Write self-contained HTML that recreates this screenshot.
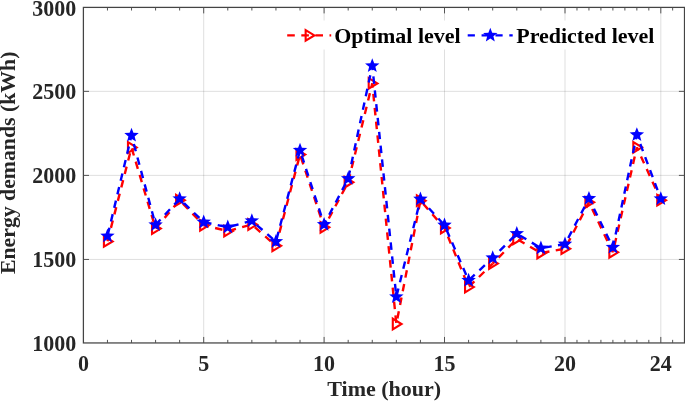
<!DOCTYPE html>
<html><head><meta charset="utf-8"><title>Energy demands</title>
<style>html,body{margin:0;padding:0;background:#fff;}body{width:685px;height:401px;overflow:hidden;position:relative;font-family:"Liberation Serif",serif;}</style>
</head><body>
<svg width="685" height="401" viewBox="0 0 685 401" style="position:absolute;left:0;top:0;will-change:transform;font-family:'Liberation Serif',serif;font-weight:bold">
<rect x="0" y="0" width="685" height="401" fill="#fff"/>
<line x1="203.70" y1="7.4" x2="203.70" y2="342.95" stroke="rgba(38,38,38,0.15)" stroke-width="1"/>
<line x1="324.10" y1="7.4" x2="324.10" y2="342.95" stroke="rgba(38,38,38,0.15)" stroke-width="1"/>
<line x1="444.50" y1="7.4" x2="444.50" y2="342.95" stroke="rgba(38,38,38,0.15)" stroke-width="1"/>
<line x1="565.00" y1="7.4" x2="565.00" y2="342.95" stroke="rgba(38,38,38,0.15)" stroke-width="1"/>
<line x1="660.80" y1="7.4" x2="660.80" y2="342.95" stroke="rgba(38,38,38,0.15)" stroke-width="1"/>
<line x1="83.4" y1="259.45" x2="684.5" y2="259.45" stroke="rgba(38,38,38,0.15)" stroke-width="1"/>
<line x1="83.4" y1="175.40" x2="684.5" y2="175.40" stroke="rgba(38,38,38,0.15)" stroke-width="1"/>
<line x1="83.4" y1="91.35" x2="684.5" y2="91.35" stroke="rgba(38,38,38,0.15)" stroke-width="1"/>
<rect x="283" y="20.5" width="372" height="29" fill="#fff"/>
<rect x="83.4" y="7.4" width="601.1" height="335.55" fill="none" stroke="#444444" stroke-width="1.25"/>
<line x1="107.46" y1="342.95" x2="107.46" y2="339.84999999999997" stroke="#4c4c4c" stroke-width="0.95"/>
<line x1="107.46" y1="7.4" x2="107.46" y2="10.5" stroke="#4c4c4c" stroke-width="0.95"/>
<line x1="131.52" y1="342.95" x2="131.52" y2="339.84999999999997" stroke="#4c4c4c" stroke-width="0.95"/>
<line x1="131.52" y1="7.4" x2="131.52" y2="10.5" stroke="#4c4c4c" stroke-width="0.95"/>
<line x1="155.58" y1="342.95" x2="155.58" y2="339.84999999999997" stroke="#4c4c4c" stroke-width="0.95"/>
<line x1="155.58" y1="7.4" x2="155.58" y2="10.5" stroke="#4c4c4c" stroke-width="0.95"/>
<line x1="179.64" y1="342.95" x2="179.64" y2="339.84999999999997" stroke="#4c4c4c" stroke-width="0.95"/>
<line x1="179.64" y1="7.4" x2="179.64" y2="10.5" stroke="#4c4c4c" stroke-width="0.95"/>
<line x1="203.70" y1="342.95" x2="203.70" y2="336.95" stroke="#4c4c4c" stroke-width="0.95"/>
<line x1="203.70" y1="7.4" x2="203.70" y2="13.4" stroke="#4c4c4c" stroke-width="0.95"/>
<line x1="227.78" y1="342.95" x2="227.78" y2="339.84999999999997" stroke="#4c4c4c" stroke-width="0.95"/>
<line x1="227.78" y1="7.4" x2="227.78" y2="10.5" stroke="#4c4c4c" stroke-width="0.95"/>
<line x1="251.86" y1="342.95" x2="251.86" y2="339.84999999999997" stroke="#4c4c4c" stroke-width="0.95"/>
<line x1="251.86" y1="7.4" x2="251.86" y2="10.5" stroke="#4c4c4c" stroke-width="0.95"/>
<line x1="275.94" y1="342.95" x2="275.94" y2="339.84999999999997" stroke="#4c4c4c" stroke-width="0.95"/>
<line x1="275.94" y1="7.4" x2="275.94" y2="10.5" stroke="#4c4c4c" stroke-width="0.95"/>
<line x1="300.02" y1="342.95" x2="300.02" y2="339.84999999999997" stroke="#4c4c4c" stroke-width="0.95"/>
<line x1="300.02" y1="7.4" x2="300.02" y2="10.5" stroke="#4c4c4c" stroke-width="0.95"/>
<line x1="324.10" y1="342.95" x2="324.10" y2="336.95" stroke="#4c4c4c" stroke-width="0.95"/>
<line x1="324.10" y1="7.4" x2="324.10" y2="13.4" stroke="#4c4c4c" stroke-width="0.95"/>
<line x1="348.18" y1="342.95" x2="348.18" y2="339.84999999999997" stroke="#4c4c4c" stroke-width="0.95"/>
<line x1="348.18" y1="7.4" x2="348.18" y2="10.5" stroke="#4c4c4c" stroke-width="0.95"/>
<line x1="372.26" y1="342.95" x2="372.26" y2="339.84999999999997" stroke="#4c4c4c" stroke-width="0.95"/>
<line x1="372.26" y1="7.4" x2="372.26" y2="10.5" stroke="#4c4c4c" stroke-width="0.95"/>
<line x1="396.34" y1="342.95" x2="396.34" y2="339.84999999999997" stroke="#4c4c4c" stroke-width="0.95"/>
<line x1="396.34" y1="7.4" x2="396.34" y2="10.5" stroke="#4c4c4c" stroke-width="0.95"/>
<line x1="420.42" y1="342.95" x2="420.42" y2="339.84999999999997" stroke="#4c4c4c" stroke-width="0.95"/>
<line x1="420.42" y1="7.4" x2="420.42" y2="10.5" stroke="#4c4c4c" stroke-width="0.95"/>
<line x1="444.50" y1="342.95" x2="444.50" y2="336.95" stroke="#4c4c4c" stroke-width="0.95"/>
<line x1="444.50" y1="7.4" x2="444.50" y2="13.4" stroke="#4c4c4c" stroke-width="0.95"/>
<line x1="468.60" y1="342.95" x2="468.60" y2="339.84999999999997" stroke="#4c4c4c" stroke-width="0.95"/>
<line x1="468.60" y1="7.4" x2="468.60" y2="10.5" stroke="#4c4c4c" stroke-width="0.95"/>
<line x1="492.70" y1="342.95" x2="492.70" y2="339.84999999999997" stroke="#4c4c4c" stroke-width="0.95"/>
<line x1="492.70" y1="7.4" x2="492.70" y2="10.5" stroke="#4c4c4c" stroke-width="0.95"/>
<line x1="516.80" y1="342.95" x2="516.80" y2="339.84999999999997" stroke="#4c4c4c" stroke-width="0.95"/>
<line x1="516.80" y1="7.4" x2="516.80" y2="10.5" stroke="#4c4c4c" stroke-width="0.95"/>
<line x1="540.90" y1="342.95" x2="540.90" y2="339.84999999999997" stroke="#4c4c4c" stroke-width="0.95"/>
<line x1="540.90" y1="7.4" x2="540.90" y2="10.5" stroke="#4c4c4c" stroke-width="0.95"/>
<line x1="565.00" y1="342.95" x2="565.00" y2="336.95" stroke="#4c4c4c" stroke-width="0.95"/>
<line x1="565.00" y1="7.4" x2="565.00" y2="13.4" stroke="#4c4c4c" stroke-width="0.95"/>
<line x1="576.98" y1="342.95" x2="576.98" y2="339.84999999999997" stroke="#4c4c4c" stroke-width="0.95"/>
<line x1="576.98" y1="7.4" x2="576.98" y2="10.5" stroke="#4c4c4c" stroke-width="0.95"/>
<line x1="588.95" y1="342.95" x2="588.95" y2="339.84999999999997" stroke="#4c4c4c" stroke-width="0.95"/>
<line x1="588.95" y1="7.4" x2="588.95" y2="10.5" stroke="#4c4c4c" stroke-width="0.95"/>
<line x1="600.92" y1="342.95" x2="600.92" y2="339.84999999999997" stroke="#4c4c4c" stroke-width="0.95"/>
<line x1="600.92" y1="7.4" x2="600.92" y2="10.5" stroke="#4c4c4c" stroke-width="0.95"/>
<line x1="612.90" y1="342.95" x2="612.90" y2="339.84999999999997" stroke="#4c4c4c" stroke-width="0.95"/>
<line x1="612.90" y1="7.4" x2="612.90" y2="10.5" stroke="#4c4c4c" stroke-width="0.95"/>
<line x1="624.88" y1="342.95" x2="624.88" y2="339.84999999999997" stroke="#4c4c4c" stroke-width="0.95"/>
<line x1="624.88" y1="7.4" x2="624.88" y2="10.5" stroke="#4c4c4c" stroke-width="0.95"/>
<line x1="636.85" y1="342.95" x2="636.85" y2="339.84999999999997" stroke="#4c4c4c" stroke-width="0.95"/>
<line x1="636.85" y1="7.4" x2="636.85" y2="10.5" stroke="#4c4c4c" stroke-width="0.95"/>
<line x1="648.82" y1="342.95" x2="648.82" y2="339.84999999999997" stroke="#4c4c4c" stroke-width="0.95"/>
<line x1="648.82" y1="7.4" x2="648.82" y2="10.5" stroke="#4c4c4c" stroke-width="0.95"/>
<line x1="660.80" y1="342.95" x2="660.80" y2="336.95" stroke="#4c4c4c" stroke-width="0.95"/>
<line x1="660.80" y1="7.4" x2="660.80" y2="13.4" stroke="#4c4c4c" stroke-width="0.95"/>
<line x1="672.65" y1="342.95" x2="672.65" y2="339.84999999999997" stroke="#4c4c4c" stroke-width="0.95"/>
<line x1="672.65" y1="7.4" x2="672.65" y2="10.5" stroke="#4c4c4c" stroke-width="0.95"/>
<line x1="83.4" y1="259.45" x2="89.0" y2="259.45" stroke="#4c4c4c" stroke-width="0.95"/>
<line x1="684.5" y1="259.45" x2="678.9" y2="259.45" stroke="#4c4c4c" stroke-width="0.95"/>
<line x1="83.4" y1="175.40" x2="89.0" y2="175.40" stroke="#4c4c4c" stroke-width="0.95"/>
<line x1="684.5" y1="175.40" x2="678.9" y2="175.40" stroke="#4c4c4c" stroke-width="0.95"/>
<line x1="83.4" y1="91.35" x2="89.0" y2="91.35" stroke="#4c4c4c" stroke-width="0.95"/>
<line x1="684.5" y1="91.35" x2="678.9" y2="91.35" stroke="#4c4c4c" stroke-width="0.95"/>
<text transform="translate(83.40,370.7) scale(1,1.04)" font-size="22" fill="#262626" text-anchor="middle">0</text>
<text transform="translate(203.70,370.7) scale(1,1.04)" font-size="22" fill="#262626" text-anchor="middle">5</text>
<text transform="translate(324.10,370.7) scale(1,1.04)" font-size="22" fill="#262626" text-anchor="middle">10</text>
<text transform="translate(444.50,370.7) scale(1,1.04)" font-size="22" fill="#262626" text-anchor="middle">15</text>
<text transform="translate(565.00,370.7) scale(1,1.04)" font-size="22" fill="#262626" text-anchor="middle">20</text>
<text transform="translate(660.80,370.7) scale(1,1.04)" font-size="22" fill="#262626" text-anchor="middle">24</text>
<text transform="translate(76.3,351.05) scale(1,1.04)" font-size="22" fill="#262626" text-anchor="end">1000</text>
<text transform="translate(76.3,267.16) scale(1,1.04)" font-size="22" fill="#262626" text-anchor="end">1500</text>
<text transform="translate(76.3,183.27) scale(1,1.04)" font-size="22" fill="#262626" text-anchor="end">2000</text>
<text transform="translate(76.3,99.39) scale(1,1.04)" font-size="22" fill="#262626" text-anchor="end">2500</text>
<text transform="translate(76.3,15.50) scale(1,1.04)" font-size="22" fill="#262626" text-anchor="end">3000</text>
<text x="384.2" y="396.3" font-size="22" fill="#262626" text-anchor="middle">Time (hour)</text>
<text transform="translate(15.2,162.8) rotate(-90)" font-size="21.75" fill="#262626" text-anchor="middle">Energy demands (kWh)</text>
<line x1="107.46" y1="241.45" x2="131.52" y2="147.49" stroke="#ff0000" stroke-width="2.4" stroke-dasharray="7.5 6.41" stroke-dashoffset="13.76"/>
<line x1="131.52" y1="147.49" x2="155.58" y2="228.53" stroke="#ff0000" stroke-width="2.4" stroke-dasharray="7.5 6.41" stroke-dashoffset="13.07"/>
<line x1="155.58" y1="228.53" x2="179.64" y2="200.17" stroke="#ff0000" stroke-width="2.4" stroke-dasharray="7.5 6.41" stroke-dashoffset="13.87"/>
<line x1="179.64" y1="200.17" x2="203.70" y2="225.34" stroke="#ff0000" stroke-width="2.4" stroke-dasharray="7.5 6.41" stroke-dashoffset="9.21"/>
<line x1="203.70" y1="225.34" x2="227.78" y2="231.04" stroke="#ff0000" stroke-width="2.4" stroke-dasharray="7.5 6.41" stroke-dashoffset="2.18"/>
<line x1="227.78" y1="231.04" x2="251.86" y2="224.50" stroke="#ff0000" stroke-width="2.4" stroke-dasharray="7.5 6.41" stroke-dashoffset="12.94"/>
<line x1="251.86" y1="224.50" x2="275.94" y2="245.81" stroke="#ff0000" stroke-width="2.4" stroke-dasharray="7.5 6.41" stroke-dashoffset="9.99"/>
<line x1="275.94" y1="245.81" x2="300.02" y2="154.54" stroke="#ff0000" stroke-width="2.4" stroke-dasharray="7.5 6.41" stroke-dashoffset="0.31"/>
<line x1="300.02" y1="154.54" x2="324.10" y2="227.35" stroke="#ff0000" stroke-width="2.4" stroke-dasharray="7.5 6.41" stroke-dashoffset="10.95"/>
<line x1="324.10" y1="227.35" x2="348.18" y2="182.22" stroke="#ff0000" stroke-width="2.4" stroke-dasharray="7.5 6.41" stroke-dashoffset="3.93"/>
<line x1="348.18" y1="182.22" x2="372.26" y2="83.40" stroke="#ff0000" stroke-width="2.4" stroke-dasharray="7.5 6.41" stroke-dashoffset="13.19"/>
<line x1="372.26" y1="83.40" x2="396.34" y2="323.99" stroke="#ff0000" stroke-width="2.4" stroke-dasharray="7.5 6.41" stroke-dashoffset="3.30"/>
<line x1="396.34" y1="323.99" x2="420.42" y2="200.68" stroke="#ff0000" stroke-width="2.4" stroke-dasharray="7.5 6.41" stroke-dashoffset="8.40"/>
<line x1="420.42" y1="200.68" x2="444.50" y2="228.02" stroke="#ff0000" stroke-width="2.4" stroke-dasharray="7.5 6.41" stroke-dashoffset="9.77"/>
<line x1="444.50" y1="228.02" x2="468.60" y2="287.08" stroke="#ff0000" stroke-width="2.4" stroke-dasharray="7.5 6.41" stroke-dashoffset="4.75"/>
<line x1="468.60" y1="287.08" x2="492.70" y2="263.59" stroke="#ff0000" stroke-width="2.4" stroke-dasharray="7.5 6.41" stroke-dashoffset="13.36"/>
<line x1="492.70" y1="263.59" x2="516.80" y2="238.93" stroke="#ff0000" stroke-width="2.4" stroke-dasharray="7.5 6.41" stroke-dashoffset="5.53"/>
<line x1="516.80" y1="238.93" x2="540.90" y2="253.02" stroke="#ff0000" stroke-width="2.4" stroke-dasharray="7.5 6.41" stroke-dashoffset="12.44"/>
<line x1="540.90" y1="253.02" x2="565.00" y2="248.66" stroke="#ff0000" stroke-width="2.4" stroke-dasharray="7.5 6.41" stroke-dashoffset="12.74"/>
<line x1="565.00" y1="248.66" x2="588.95" y2="202.35" stroke="#ff0000" stroke-width="2.4" stroke-dasharray="7.5 6.41" stroke-dashoffset="9.59"/>
<line x1="588.95" y1="202.35" x2="612.90" y2="252.35" stroke="#ff0000" stroke-width="2.4" stroke-dasharray="7.5 6.41" stroke-dashoffset="6.47"/>
<line x1="612.90" y1="252.35" x2="636.85" y2="147.32" stroke="#ff0000" stroke-width="2.4" stroke-dasharray="7.5 6.41" stroke-dashoffset="6.67"/>
<line x1="636.85" y1="147.32" x2="660.80" y2="200.17" stroke="#ff0000" stroke-width="2.4" stroke-dasharray="7.5 6.41" stroke-dashoffset="3.90"/>
<path d="M103.91 236.15L103.91 246.75L112.66 241.45Z" fill="none" stroke="#ff0000" stroke-width="2.1" stroke-linejoin="miter"/>
<path d="M127.97 142.19L127.97 152.79L136.72 147.49Z" fill="none" stroke="#ff0000" stroke-width="2.1" stroke-linejoin="miter"/>
<path d="M152.03 223.23L152.03 233.83L160.78 228.53Z" fill="none" stroke="#ff0000" stroke-width="2.1" stroke-linejoin="miter"/>
<path d="M176.09 194.87L176.09 205.47L184.84 200.17Z" fill="none" stroke="#ff0000" stroke-width="2.1" stroke-linejoin="miter"/>
<path d="M200.15 220.04L200.15 230.64L208.90 225.34Z" fill="none" stroke="#ff0000" stroke-width="2.1" stroke-linejoin="miter"/>
<path d="M224.23 225.74L224.23 236.34L232.98 231.04Z" fill="none" stroke="#ff0000" stroke-width="2.1" stroke-linejoin="miter"/>
<path d="M248.31 219.20L248.31 229.80L257.06 224.50Z" fill="none" stroke="#ff0000" stroke-width="2.1" stroke-linejoin="miter"/>
<path d="M272.39 240.51L272.39 251.11L281.14 245.81Z" fill="none" stroke="#ff0000" stroke-width="2.1" stroke-linejoin="miter"/>
<path d="M296.47 149.24L296.47 159.84L305.22 154.54Z" fill="none" stroke="#ff0000" stroke-width="2.1" stroke-linejoin="miter"/>
<path d="M320.55 222.05L320.55 232.65L329.30 227.35Z" fill="none" stroke="#ff0000" stroke-width="2.1" stroke-linejoin="miter"/>
<path d="M344.63 176.92L344.63 187.52L353.38 182.22Z" fill="none" stroke="#ff0000" stroke-width="2.1" stroke-linejoin="miter"/>
<path d="M368.71 78.10L368.71 88.70L377.46 83.40Z" fill="none" stroke="#ff0000" stroke-width="2.1" stroke-linejoin="miter"/>
<path d="M392.79 318.69L392.79 329.29L401.54 323.99Z" fill="none" stroke="#ff0000" stroke-width="2.1" stroke-linejoin="miter"/>
<path d="M416.87 195.38L416.87 205.98L425.62 200.68Z" fill="none" stroke="#ff0000" stroke-width="2.1" stroke-linejoin="miter"/>
<path d="M440.95 222.72L440.95 233.32L449.70 228.02Z" fill="none" stroke="#ff0000" stroke-width="2.1" stroke-linejoin="miter"/>
<path d="M465.05 281.78L465.05 292.38L473.80 287.08Z" fill="none" stroke="#ff0000" stroke-width="2.1" stroke-linejoin="miter"/>
<path d="M489.15 258.29L489.15 268.89L497.90 263.59Z" fill="none" stroke="#ff0000" stroke-width="2.1" stroke-linejoin="miter"/>
<path d="M513.25 233.63L513.25 244.23L522.00 238.93Z" fill="none" stroke="#ff0000" stroke-width="2.1" stroke-linejoin="miter"/>
<path d="M537.35 247.72L537.35 258.32L546.10 253.02Z" fill="none" stroke="#ff0000" stroke-width="2.1" stroke-linejoin="miter"/>
<path d="M561.45 243.36L561.45 253.96L570.20 248.66Z" fill="none" stroke="#ff0000" stroke-width="2.1" stroke-linejoin="miter"/>
<path d="M585.40 197.05L585.40 207.65L594.15 202.35Z" fill="none" stroke="#ff0000" stroke-width="2.1" stroke-linejoin="miter"/>
<path d="M609.35 247.05L609.35 257.65L618.10 252.35Z" fill="none" stroke="#ff0000" stroke-width="2.1" stroke-linejoin="miter"/>
<path d="M633.30 142.02L633.30 152.62L642.05 147.32Z" fill="none" stroke="#ff0000" stroke-width="2.1" stroke-linejoin="miter"/>
<path d="M657.25 194.87L657.25 205.47L666.00 200.17Z" fill="none" stroke="#ff0000" stroke-width="2.1" stroke-linejoin="miter"/>
<line x1="107.46" y1="236.08" x2="131.52" y2="135.41" stroke="#0000ff" stroke-width="2.4" stroke-dasharray="7.5 6.41" stroke-dashoffset="12.76"/>
<line x1="131.52" y1="135.41" x2="155.58" y2="224.84" stroke="#0000ff" stroke-width="2.4" stroke-dasharray="7.5 6.41" stroke-dashoffset="4.98"/>
<line x1="155.58" y1="224.84" x2="179.64" y2="198.83" stroke="#0000ff" stroke-width="2.4" stroke-dasharray="7.5 6.41" stroke-dashoffset="0.22"/>
<line x1="179.64" y1="198.83" x2="203.70" y2="222.15" stroke="#0000ff" stroke-width="2.4" stroke-dasharray="7.5 6.41" stroke-dashoffset="7.83"/>
<line x1="203.70" y1="222.15" x2="227.78" y2="227.19" stroke="#0000ff" stroke-width="2.4" stroke-dasharray="7.5 6.41" stroke-dashoffset="13.51"/>
<line x1="227.78" y1="227.19" x2="251.86" y2="220.81" stroke="#0000ff" stroke-width="2.4" stroke-dasharray="7.5 6.41" stroke-dashoffset="10.29"/>
<line x1="251.86" y1="220.81" x2="275.94" y2="241.61" stroke="#0000ff" stroke-width="2.4" stroke-dasharray="7.5 6.41" stroke-dashoffset="7.38"/>
<line x1="275.94" y1="241.61" x2="300.02" y2="150.34" stroke="#0000ff" stroke-width="2.4" stroke-dasharray="7.5 6.41" stroke-dashoffset="11.39"/>
<line x1="300.02" y1="150.34" x2="324.10" y2="224.50" stroke="#0000ff" stroke-width="2.4" stroke-dasharray="7.5 6.41" stroke-dashoffset="8.41"/>
<line x1="324.10" y1="224.50" x2="348.18" y2="178.70" stroke="#0000ff" stroke-width="2.4" stroke-dasharray="7.5 6.41" stroke-dashoffset="2.92"/>
<line x1="348.18" y1="178.70" x2="372.26" y2="65.79" stroke="#0000ff" stroke-width="2.4" stroke-dasharray="7.5 6.41" stroke-dashoffset="12.94"/>
<line x1="372.26" y1="65.79" x2="396.34" y2="296.81" stroke="#0000ff" stroke-width="2.4" stroke-dasharray="7.5 6.41" stroke-dashoffset="3.20"/>
<line x1="396.34" y1="296.81" x2="420.42" y2="199.17" stroke="#0000ff" stroke-width="2.4" stroke-dasharray="7.5 6.41" stroke-dashoffset="12.80"/>
<line x1="420.42" y1="199.17" x2="444.50" y2="225.17" stroke="#0000ff" stroke-width="2.4" stroke-dasharray="7.5 6.41" stroke-dashoffset="1.46"/>
<line x1="444.50" y1="225.17" x2="468.60" y2="280.37" stroke="#0000ff" stroke-width="2.4" stroke-dasharray="7.5 6.41" stroke-dashoffset="8.86"/>
<line x1="468.60" y1="280.37" x2="492.70" y2="257.89" stroke="#0000ff" stroke-width="2.4" stroke-dasharray="7.5 6.41" stroke-dashoffset="13.07"/>
<line x1="492.70" y1="257.89" x2="516.80" y2="233.56" stroke="#0000ff" stroke-width="2.4" stroke-dasharray="7.5 6.41" stroke-dashoffset="4.09"/>
<line x1="516.80" y1="233.56" x2="540.90" y2="248.16" stroke="#0000ff" stroke-width="2.4" stroke-dasharray="7.5 6.41" stroke-dashoffset="10.30"/>
<line x1="540.90" y1="248.16" x2="565.00" y2="244.13" stroke="#0000ff" stroke-width="2.4" stroke-dasharray="7.5 6.41" stroke-dashoffset="10.48"/>
<line x1="565.00" y1="244.13" x2="588.95" y2="198.50" stroke="#0000ff" stroke-width="2.4" stroke-dasharray="7.5 6.41" stroke-dashoffset="6.94"/>
<line x1="588.95" y1="198.50" x2="612.90" y2="247.32" stroke="#0000ff" stroke-width="2.4" stroke-dasharray="7.5 6.41" stroke-dashoffset="2.51"/>
<line x1="612.90" y1="247.32" x2="636.85" y2="134.74" stroke="#0000ff" stroke-width="2.4" stroke-dasharray="7.5 6.41" stroke-dashoffset="0.91"/>
<line x1="636.85" y1="134.74" x2="660.80" y2="198.83" stroke="#0000ff" stroke-width="2.4" stroke-dasharray="7.5 6.41" stroke-dashoffset="4.00"/>
<polygon points="107.46,228.48 109.38,233.43 114.69,233.73 110.57,237.09 111.93,242.23 107.46,239.35 102.99,242.23 104.35,237.09 100.23,233.73 105.54,233.43" fill="#0000ff"/>
<polygon points="131.52,127.81 133.44,132.77 138.75,133.06 134.63,136.42 135.99,141.56 131.52,138.68 127.05,141.56 128.41,136.42 124.29,133.06 129.60,132.77" fill="#0000ff"/>
<polygon points="155.58,217.24 157.50,222.19 162.81,222.49 158.69,225.85 160.05,230.98 155.58,228.10 151.11,230.98 152.47,225.85 148.35,222.49 153.66,222.19" fill="#0000ff"/>
<polygon points="179.64,191.23 181.56,196.19 186.87,196.48 182.75,199.84 184.11,204.98 179.64,202.10 175.17,204.98 176.53,199.84 172.41,196.48 177.72,196.19" fill="#0000ff"/>
<polygon points="203.70,214.55 205.62,219.51 210.93,219.80 206.81,223.16 208.17,228.30 203.70,225.42 199.23,228.30 200.59,223.16 196.47,219.80 201.78,219.51" fill="#0000ff"/>
<polygon points="227.78,219.59 229.70,224.54 235.01,224.84 230.89,228.20 232.25,233.33 227.78,230.45 223.31,233.33 224.67,228.20 220.55,224.84 225.86,224.54" fill="#0000ff"/>
<polygon points="251.86,213.21 253.78,218.17 259.09,218.46 254.97,221.82 256.33,226.96 251.86,224.08 247.39,226.96 248.75,221.82 244.63,218.46 249.94,218.17" fill="#0000ff"/>
<polygon points="275.94,234.01 277.86,238.97 283.17,239.27 279.05,242.62 280.41,247.76 275.94,244.88 271.47,247.76 272.83,242.62 268.71,239.27 274.02,238.97" fill="#0000ff"/>
<polygon points="300.02,142.74 301.94,147.70 307.25,148.00 303.13,151.35 304.49,156.49 300.02,153.61 295.55,156.49 296.91,151.35 292.79,148.00 298.10,147.70" fill="#0000ff"/>
<polygon points="324.10,216.90 326.02,221.86 331.33,222.15 327.21,225.51 328.57,230.65 324.10,227.77 319.63,230.65 320.99,225.51 316.87,222.15 322.18,221.86" fill="#0000ff"/>
<polygon points="348.18,171.10 350.10,176.05 355.41,176.35 351.29,179.71 352.65,184.85 348.18,181.97 343.71,184.85 345.07,179.71 340.95,176.35 346.26,176.05" fill="#0000ff"/>
<polygon points="372.26,58.19 374.18,63.14 379.49,63.44 375.37,66.80 376.73,71.93 372.26,69.05 367.79,71.93 369.15,66.80 365.03,63.44 370.34,63.14" fill="#0000ff"/>
<polygon points="396.34,289.21 398.26,294.17 403.57,294.46 399.45,297.82 400.81,302.96 396.34,300.08 391.87,302.96 393.23,297.82 389.11,294.46 394.42,294.17" fill="#0000ff"/>
<polygon points="420.42,191.57 422.34,196.52 427.65,196.82 423.53,200.18 424.89,205.32 420.42,202.43 415.95,205.32 417.31,200.18 413.19,196.82 418.50,196.52" fill="#0000ff"/>
<polygon points="444.50,217.57 446.42,222.53 451.73,222.82 447.61,226.18 448.97,231.32 444.50,228.44 440.03,231.32 441.39,226.18 437.27,222.82 442.58,222.53" fill="#0000ff"/>
<polygon points="468.60,272.77 470.52,277.73 475.83,278.02 471.71,281.38 473.07,286.52 468.60,283.64 464.13,286.52 465.49,281.38 461.37,278.02 466.68,277.73" fill="#0000ff"/>
<polygon points="492.70,250.29 494.62,255.24 499.93,255.54 495.81,258.90 497.17,264.04 492.70,261.16 488.23,264.04 489.59,258.90 485.47,255.54 490.78,255.24" fill="#0000ff"/>
<polygon points="516.80,225.96 518.72,230.92 524.03,231.21 519.91,234.57 521.27,239.71 516.80,236.83 512.33,239.71 513.69,234.57 509.57,231.21 514.88,230.92" fill="#0000ff"/>
<polygon points="540.90,240.56 542.82,245.51 548.13,245.81 544.01,249.17 545.37,254.31 540.90,251.43 536.43,254.31 537.79,249.17 533.67,245.81 538.98,245.51" fill="#0000ff"/>
<polygon points="565.00,236.53 566.92,241.49 572.23,241.78 568.11,245.14 569.47,250.28 565.00,247.40 560.53,250.28 561.89,245.14 557.77,241.78 563.08,241.49" fill="#0000ff"/>
<polygon points="588.95,190.90 590.87,195.85 596.18,196.15 592.06,199.51 593.42,204.64 588.95,201.76 584.48,204.64 585.84,199.51 581.72,196.15 587.03,195.85" fill="#0000ff"/>
<polygon points="612.90,239.72 614.82,244.67 620.13,244.97 616.01,248.33 617.37,253.47 612.90,250.59 608.43,253.47 609.79,248.33 605.67,244.97 610.98,244.67" fill="#0000ff"/>
<polygon points="636.85,127.14 638.77,132.10 644.08,132.39 639.96,135.75 641.32,140.89 636.85,138.01 632.38,140.89 633.74,135.75 629.62,132.39 634.93,132.10" fill="#0000ff"/>
<polygon points="660.80,191.23 662.72,196.19 668.03,196.48 663.91,199.84 665.27,204.98 660.80,202.10 656.33,204.98 657.69,199.84 653.57,196.48 658.88,196.19" fill="#0000ff"/>
<line x1="287.2" y1="35.4" x2="331.2" y2="35.4" stroke="#ff0000" stroke-width="2.4" stroke-dasharray="7.6 6.5"/>
<path d="M305.65 30.10L305.65 40.70L314.40 35.40Z" fill="none" stroke="#ff0000" stroke-width="2.1" stroke-linejoin="miter"/>
<text x="334.2" y="42.8" font-size="22" fill="#000">Optimal level</text>
<line x1="467.7" y1="35.4" x2="512.7" y2="35.4" stroke="#0000ff" stroke-width="2.4" stroke-dasharray="7.2 6.67"/>
<polygon points="490.30,27.70 492.22,32.66 497.53,32.95 493.41,36.31 494.77,41.45 490.30,38.57 485.83,41.45 487.19,36.31 483.07,32.95 488.38,32.66" fill="#0000ff"/>
<text x="516.2" y="42.8" font-size="22" fill="#000">Predicted level</text>
</svg>
</body></html>
